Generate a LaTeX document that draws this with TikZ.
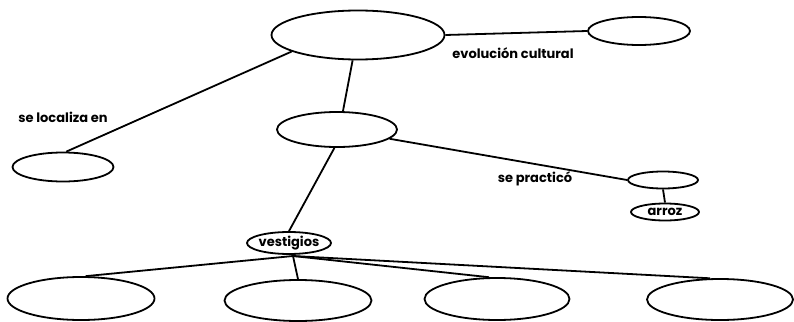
\documentclass[tikz,border=0pt]{standalone}
\usepackage{fontspec}
\setmainfont{Poppins}
\usetikzlibrary{shapes.geometric}
\begin{document}
\begin{tikzpicture}[x=1pt,y=-1pt,
  ell/.style={draw=black,ellipse,line width=1.8pt,inner sep=0pt},
  conn/.style={draw=black,line width=1.8pt},
  lbl/.style={font=\fontsize{13}{15}\selectfont\bfseries,inner sep=0pt}]
\useasboundingbox[fill=white] (0,0) rectangle (794,321);
% nodes
\node[ell,minimum width=173,minimum height=49] (top) at (358,35) {};
\node[ell,minimum width=102,minimum height=28] (tr) at (639,31) {};
\node[ell,minimum width=101,minimum height=29] (left) at (63,167) {};
\node[ell,minimum width=120,minimum height=35] (mid) at (337,129.5) {};
\node[ell,minimum width=70,minimum height=17] (prac) at (663,180) {};
\node[ell,minimum width=68,minimum height=17] (arroz) at (665,212) {};
\node[lbl] (arrozt) at (arroz.center) {arroz};
\node[ell,minimum width=84,minimum height=22] (vest) at (289,243) {};
\node[lbl] (vestt) at (vest.center) {vestigios};
\node[ell,minimum width=147,minimum height=43] (b1) at (81,298.5) {};
\node[ell,minimum width=147,minimum height=41] (b2) at (298,300.5) {};
\node[ell,minimum width=145,minimum height=42] (b3) at (497,299) {};
\node[ell,minimum width=146,minimum height=41] (b4) at (720,299.5) {};
% labels
\node[lbl] (l1) at (513,53) {evolución cultural};
\node[lbl] (l2) at (63,117) {se localiza en};
\node[lbl] (l3) at (535,179) {se practicó};
\coordinate (hub) at (293,256);
% connectors
\draw[conn] (top.east) -- (tr.west);
\draw[conn] (top.194) -- (left.78);
\draw[conn] (top.258) -- (mid.72);
\draw[conn] (mid.350) -- (prac.west);
\draw[conn] (prac.south) -- (arroz.north);
\draw[conn] (mid.262) -- (vest.north);
\draw[conn] (hub) -- (b1.78);
\draw[conn] (hub) -- (b2.north);
\draw[conn] (hub) -- (b3.110);
\draw[conn] (hub) -- (b4.115);
\end{tikzpicture}
\end{document}
